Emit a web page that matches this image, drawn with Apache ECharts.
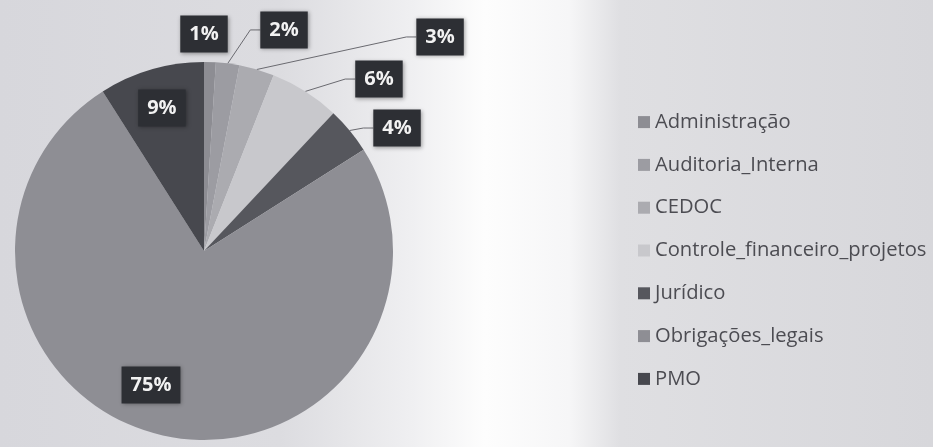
<!DOCTYPE html>
<html>
<head>
<meta charset="utf-8">
<script src="https://cdn.jsdelivr.net/npm/echarts@6/dist/echarts.min.js"></script>
<style>html,body{margin:0;padding:0;}#c{width:933px;height:447px;}</style>
</head>
<body>
<div id="c"></div>
<script>
const categories = ['Administração','Auditoria_Interna','CEDOC','Controle_financeiro_projetos','Jurídico','Obrigações_legais','PMO'];
const values = [1, 2, 3, 6, 4, 75, 9];

const colors = ['#8d8d93','#9c9ca2','#ababb0','#c8c8cc','#56575d','#8e8e94','#47484e'];
// label placement (angle clockwise from 12 o'clock in degrees, distance as fraction of radius)
const labelAng = [0, 19.9, 47.8, 45.5, 57.5, 201.6, 343.6];
const labelDist = [1.148, 1.244, 1.686, 1.298, 1.211, 0.762, 0.789];
const withLine = [false, true, true, true, true, false, false];

const CX = 204, CY = 251, R = 189;
const total = values.reduce((a,b)=>a+b,0);
const midAngles = [];
let acc = 0;
values.forEach(v => { midAngles.push((acc + v/2) / total * 2 * Math.PI); acc += v; });

const chart = echarts.init(document.getElementById('c'));
chart.setOption({
  backgroundColor: {
    type: 'linear', x: 0, y: 0, x2: 1, y2: 0,
    colorStops: [
      {offset: 0, color: '#d7d7dc'},
      {offset: 0.3, color: '#dcdce0'},
      {offset: 0.44, color: '#efeff1'},
      {offset: 0.52, color: '#fdfdfd'},
      {offset: 0.61, color: '#f6f6f7'},
      {offset: 0.665, color: '#dfdfe2'},
      {offset: 1, color: '#d7d7db'}
    ]
  },
  animation: false,
  color: colors,
  legend: {
    orient: 'vertical',
    left: 633,
    top: 107,
    icon: 'rect',
    itemWidth: 12,
    itemHeight: 12,
    itemGap: 22.6,
    textStyle: {fontFamily: 'Open Sans', fontSize: 20.2, color: '#4c4c52', lineHeight: 20.2},
    data: categories
  },
  series: [{
    type: 'pie',
    center: [CX, CY],
    radius: R,
    startAngle: 90,
    clockwise: true,
    percentPrecision: 0,
    avoidLabelOverlap: false,
    data: categories.map((n, i) => ({
      name: n,
      value: values[i],
      labelLine: {show: withLine[i]}
    })),
    itemStyle: {borderWidth: 0},
    label: {
      show: true,
      position: 'outside',
      formatter: '{d}%',
      fontFamily: 'Open Sans',
      fontWeight: 'bold',
      fontSize: 20,
      color: '#f2f2f2',
      backgroundColor: '#2d2f34',
      padding: [9, 9, 8, 9],
      shadowBlur: 4,
      shadowColor: 'rgba(0,0,0,0.35)',
      shadowOffsetX: 1,
      shadowOffsetY: 1
    },
    labelLine: {lineStyle: {color: '#6a6a70', width: 1}},
    labelLayout: function (p) {
      const i = p.dataIndex;
      const a = labelAng[i] * Math.PI / 180;
      const x = CX + labelDist[i] * R * Math.sin(a);
      const y = CY - labelDist[i] * R * Math.cos(a);
      const res = {x: x, y: y, align: 'center', verticalAlign: 'middle'};
      if (withLine[i]) {
        const m = midAngles[i];
        const ex = CX + R * Math.sin(m), ey = CY - R * Math.cos(m);
        const hw = (p.labelRect ? p.labelRect.width : 47) / 2;
        const bx = x - hw;
        res.labelLinePoints = [[ex, ey], [bx - 10, y], [bx, y]];
      }
      return res;
    }
  }]
});
</script>
</body>
</html>
